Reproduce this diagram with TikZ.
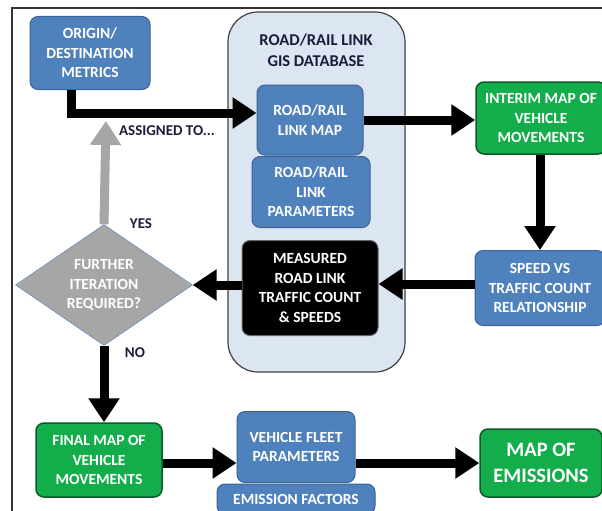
\documentclass[tikz,border=0pt]{standalone}
\usepackage{fontspec}
\setmainfont{Carlito}
\usetikzlibrary{arrows.meta,shapes.geometric}
\definecolor{boxblue}{HTML}{4F81BD}
\definecolor{blueline}{HTML}{3A6396}
\definecolor{boxgreen}{HTML}{14AD4B}
\definecolor{greenline}{HTML}{0E5A28}
\definecolor{dbfill}{HTML}{DCE6F2}
\definecolor{labelink}{HTML}{1C1C3A}
\definecolor{yesgray}{HTML}{A6A6A6}

\begin{document}
\begin{tikzpicture}
	[x=1pt, y=-1pt, font=\bfseries\fontsize{15.5}{19.5}\selectfont,
	box/.style={draw=blueline, fill=boxblue, text=white, rounded corners=8pt,
		line width=1pt, align=center, inner sep=1pt},
	greenbox/.style={box, draw=greenline, fill=boxgreen, line width=1.5pt},
	flow/.style={line width=9pt, -{Triangle[length=24pt,width=30pt]}},
	lbl/.style={text=labelink, font=\bfseries\fontsize{15}{18}\selectfont}]
	\useasboundingbox (0,0) rectangle (602,511);
	\draw[line width=1.5pt, black!80] (12,511) -- (12,8) -- (602,8);
	\node[draw=black!75, fill=dbfill, line width=1.2pt, rounded corners=30pt,
		minimum width=177pt, minimum height=360pt] (gis) at (316.5,192) {};
	\node[text=labelink, align=center, font=\bfseries\fontsize{16.5}{21}\selectfont] (gistitle) at (316,50)
		{ROAD/RAIL LINK\\GIS DATABASE};
	\node[box, minimum width=120pt, minimum height=73pt] (origin) at (90,53) {ORIGIN/\\DESTINATION\\METRICS};
	\node[box, minimum width=118pt, minimum height=71pt] (linkpar) at (311,192) {ROAD/RAIL\\LINK\\PARAMETERS};
	\node[box, minimum width=106pt, minimum height=70pt] (linkmap) at (310,120) {ROAD/RAIL\\LINK MAP};
	\node[box, draw=black!60, fill=black, minimum width=136pt, minimum height=95pt] (measured) at (310,288)
		{MEASURED\\ROAD LINK\\TRAFFIC COUNT\\\& SPEEDS};
	\node[greenbox, minimum width=130pt, minimum height=72pt] (interim) at (541,118) {INTERIM MAP OF\\VEHICLE\\MOVEMENTS};
	\node[box, minimum width=130pt, minimum height=75pt] (speed) at (540,288) {SPEED VS\\TRAFFIC COUNT\\RELATIONSHIP};
	\node[diamond, draw=boxblue, fill=yesgray, text=white, align=center, inner sep=0pt,
		aspect=1.5, minimum width=177pt, minimum height=121pt] (iter) at (104,285)
		{FURTHER\\ITERATION\\REQUIRED?};
	\node[greenbox, minimum width=126pt, minimum height=74pt] (final) at (99,460) {FINAL MAP OF\\VEHICLE\\MOVEMENTS};
	\node[box, minimum width=158pt, minimum height=30pt] (factors) at (296,499) {EMISSION FACTORS};
	\node[box, minimum width=118pt, minimum height=71pt] (fleet) at (296,447) {VEHICLE FLEET\\PARAMETERS};
	\node[greenbox, minimum width=122pt, minimum height=68pt,
		font=\bfseries\fontsize{20.5}{26}\selectfont] (emis) at (541,463) {MAP OF\\EMISSIONS};
	\coordinate (yestip) at (106,121);
	\draw[flow, yesgray] (iter.north) -- (yestip);
	\draw[flow] ([xshift=-19pt]origin.south) |- ([yshift=7pt]linkmap.west);
	\draw[flow] (linkmap.east) -- (linkmap.east -| interim.west);
	\draw[flow] (interim.south -| speed.north) -- (speed.north);
	\draw[flow] ([yshift=4pt]speed.west) -- ([yshift=4pt]speed.west -| measured.east);
	\draw[flow] (measured.west |- iter.east) -- (iter.east);
	\draw[flow] (iter.south) -- (iter.south |- final.north);
	\draw[flow] ([yshift=-3pt]final.east) -- ([yshift=-3pt]final.east -| fleet.west);
	\draw[flow] (emis.west -| fleet.east) -- (emis.west);
	\node[lbl] (assigned) at (167,131) {ASSIGNED TO...};
	\node[lbl] (yes) at (141,224) {YES};
	\node[lbl] (no) at (135,353) {NO};
	\end{tikzpicture}
\end{document}
